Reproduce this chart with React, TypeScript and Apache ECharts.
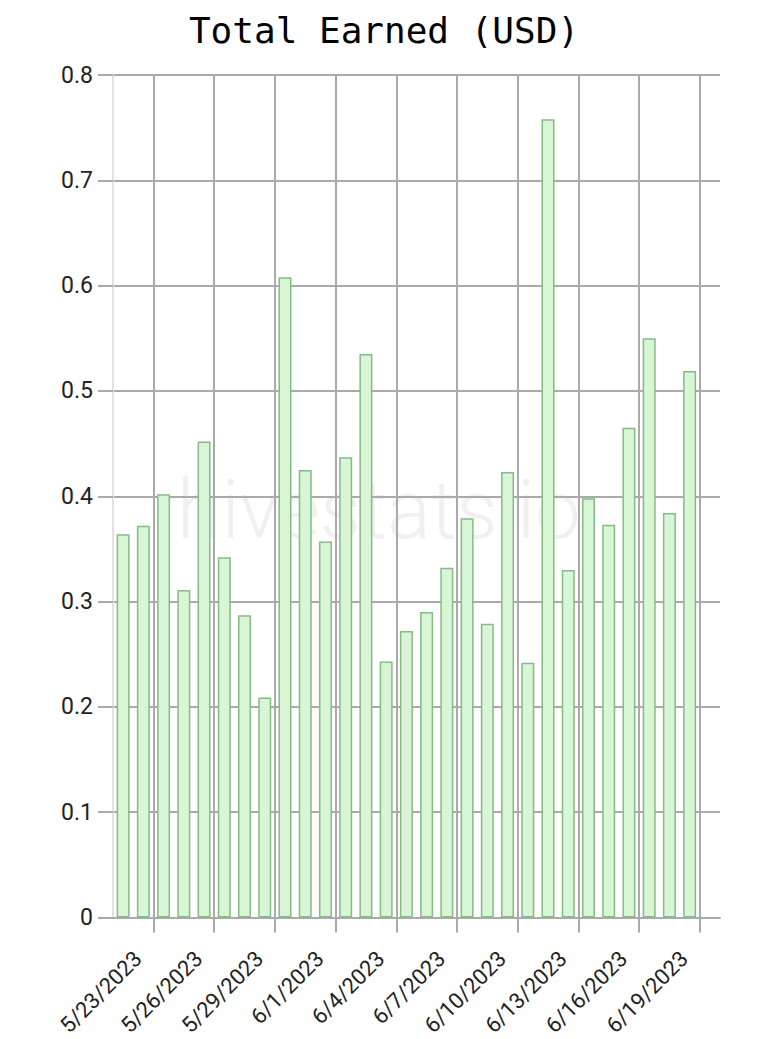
import React, { useEffect, useRef } from "react";
import * as echarts from "echarts";

const dates = [
  "5/21/2023", "5/22/2023", "5/23/2023", "5/24/2023", "5/25/2023", "5/26/2023", "5/27/2023", "5/28/2023",
  "5/29/2023", "5/30/2023", "5/31/2023", "6/1/2023", "6/2/2023", "6/3/2023", "6/4/2023", "6/5/2023",
  "6/6/2023", "6/7/2023", "6/8/2023", "6/9/2023", "6/10/2023", "6/11/2023", "6/12/2023", "6/13/2023",
  "6/14/2023", "6/15/2023", "6/16/2023", "6/17/2023", "6/18/2023",
];
const earned = [
  0.364, 0.372, 0.402, 0.311, 0.452, 0.342, 0.287, 0.209,
  0.608, 0.425, 0.357, 0.437, 0.535, 0.243, 0.272, 0.29,
  0.332, 0.379, 0.279, 0.423, 0.242, 0.758, 0.33, 0.398,
  0.373, 0.465, 0.55, 0.384, 0.519,
];
const tickLabels = [
  "5/23/2023", "5/26/2023", "5/29/2023", "6/1/2023", "6/4/2023",
  "6/7/2023", "6/10/2023", "6/13/2023", "6/16/2023", "6/19/2023",
];
const rangeStart = "5/21/2023";
const rangeEnd = "6/20/2023";

const DAY = 86400000;
const parse = (s: string) => {
  const [m, d, y] = s.split("/").map(Number);
  return Date.UTC(y, m - 1, d);
};
const t0 = parse(rangeStart);
const dayOf = (s: string) => (parse(s) - t0) / DAY;
const fmt = (v: number) => {
  const d = new Date(t0 + Math.round(v) * DAY);
  return `${d.getUTCMonth() + 1}/${d.getUTCDate()}/${d.getUTCFullYear()}`;
};

export default function App() {
  const ref = useRef<HTMLDivElement>(null);
  useEffect(() => {
    if (!ref.current) return;
    const chart = echarts.init(ref.current, undefined, { renderer: "svg" });
    const tickVals = tickLabels.map(dayOf);
    chart.setOption({
      animation: false,
      title: {
        text: "Total Earned (USD)",
        left: "center",
        top: 7,
        textStyle: { fontFamily: "DejaVu Sans Mono", fontSize: 36, fontWeight: "normal", color: "#000" },
      },
      graphic: [
        {
          type: "text",
          left: 177,
          top: 470,
          z: -10,
          silent: true,
          style: { text: "hivestats.io", fontFamily: "Roboto", fontSize: 81, fontWeight: 300, fill: "#f0f0f0" },
        },
      ],
      grid: { left: 113, right: 48, top: 75, bottom: 120, containLabel: false },
      xAxis: {
        type: "value",
        min: 0,
        max: dayOf(rangeEnd),
        axisLine: { show: true, onZero: false, lineStyle: { color: "#aaaaaa", width: 2 } },
        axisTick: { show: true, length: 15, customValues: tickVals, lineStyle: { color: "#aaaaaa", width: 2 } },
        splitLine: { show: true, lineStyle: { color: "#aaaaaa", width: 2 } },
        axisLabel: {
          customValues: tickVals,
          rotate: 45,
          margin: 22,
          padding: [0, 22, 0, 0],
          fontFamily: "Roboto",
          fontSize: 22,
          color: "#222",
          formatter: (v: number) => fmt(v),
        },
      },
      yAxis: {
        type: "value",
        min: 0,
        max: 0.8,
        interval: 0.1,
        axisLine: { show: true, lineStyle: { color: "#e2e2e2", width: 2 } },
        axisTick: { show: true, length: 15, lineStyle: { color: "#aaaaaa", width: 2 } },
        splitLine: { show: true, lineStyle: { color: "#aaaaaa", width: 2 } },
        axisLabel: { margin: 20, fontFamily: "Roboto", fontSize: 23, color: "#222" },
      },
      series: [
        {
          type: "bar",
          data: dates.map((d, i) => [dayOf(d) + 0.5, earned[i]]),
          barWidth: 13,
          itemStyle: { color: "#d8f5d5", borderColor: "#86bb86", borderWidth: 1.5 },
        },
      ],
    });
    return () => chart.dispose();
  }, []);
  return <div ref={ref} style={{ width: 768, height: 1039, position: "absolute", left: 0, top: 0 }} />;
}
